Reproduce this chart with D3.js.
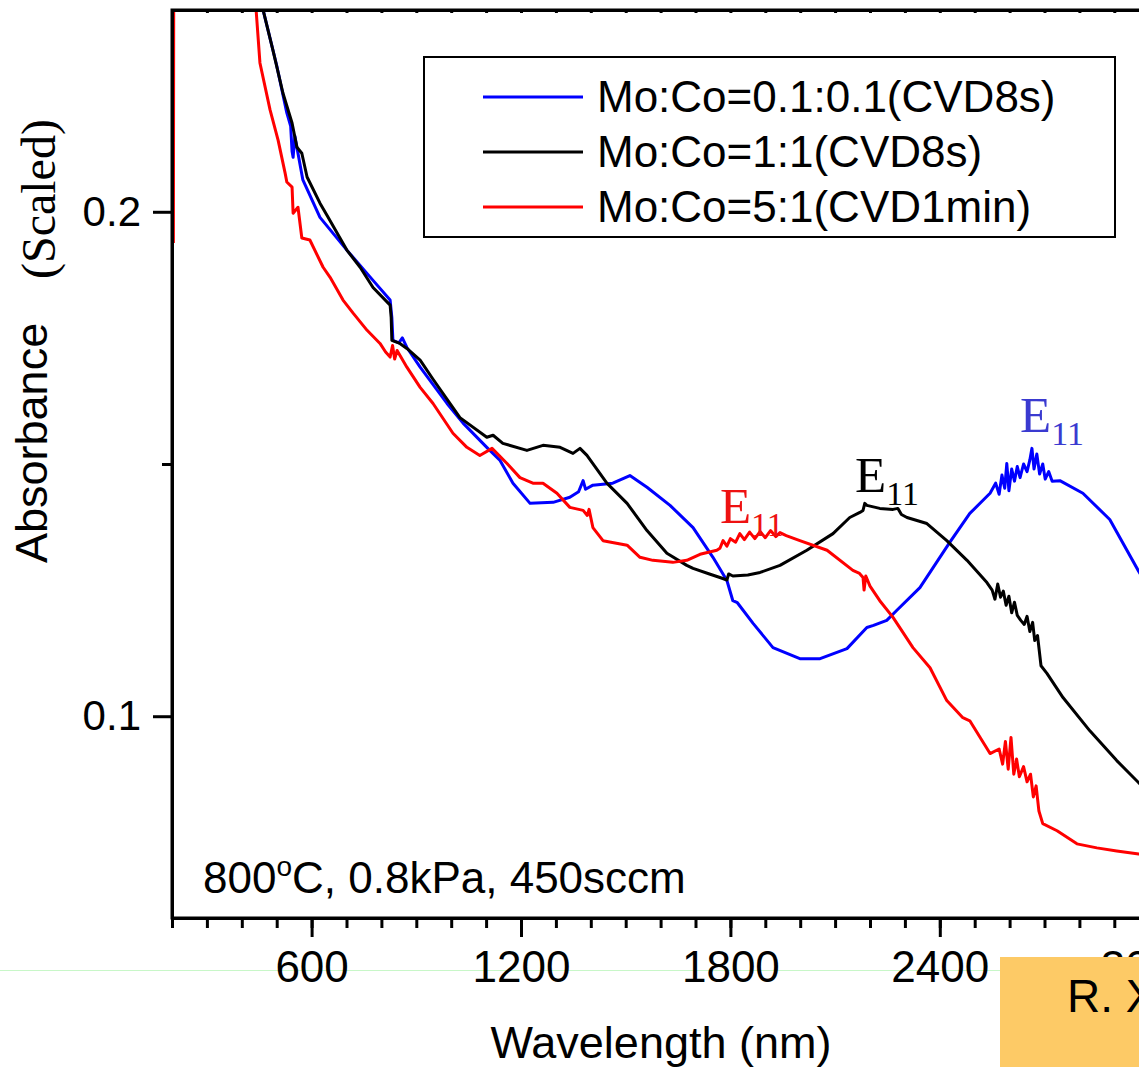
<!DOCTYPE html>
<html>
<head>
<meta charset="utf-8">
<script src="https://cdn.jsdelivr.net/npm/d3@7"></script>
<style>
  html, body { margin: 0; padding: 0; background: #fff; overflow: hidden; }
  svg { display: block; }
</style>
</head>
<body>
<svg id="chart" width="1139" height="1067"></svg>
<script>
// ---- data: wavelength (nm), scaled absorbance ----
const seriesNames = ["Mo:Co=0.1:0.1(CVD8s)", "Mo:Co=1:1(CVD8s)", "Mo:Co=5:1(CVD1min)"];

const blueSeries = [
  [461,0.240],[500,0.2290],[529,0.2196],[540,0.2170],[544,0.2120],[547,0.2108],[552,0.2150],
  [575,0.2063],[624,0.1989],[701,0.1924],[776,0.1864],[825,0.1825],[830,0.1790],[833,0.1745],
  [850,0.1740],[860,0.1750],[873,0.1731],[911,0.1692],[988,0.1620],[1034,0.1581],[1102,0.1533],
  [1140,0.1507],[1177,0.1462],[1226,0.1422],[1292,0.1424],[1340,0.1434],[1365,0.1445],
  [1378,0.1467],[1385,0.1450],[1406,0.1458],[1463,0.1462],[1512,0.1477],[1561,0.1454],
  [1627,0.1418],[1693,0.1374],[1750,0.1315],[1790,0.1269],[1807,0.1229],[1820,0.1225],
  [1865,0.1184],[1922,0.1136],[1999,0.1114],[2057,0.1114],[2134,0.1134],[2191,0.1176],
  [2210,0.1180],[2248,0.1190],[2277,0.1210],[2343,0.1255],[2429,0.1345],[2486,0.1402],
  [2544,0.1442],[2560,0.1462],[2570,0.1440],[2578,0.1478],[2586,0.1452],[2592,0.1501],
  [2598,0.1447],[2606,0.1490],[2614,0.1466],[2622,0.1495],[2630,0.1473],[2640,0.1500],
  [2650,0.1485],[2658,0.1508],[2664,0.1531],[2670,0.1490],[2678,0.1520],[2686,0.1480],
  [2695,0.1500],[2702,0.1470],[2712,0.1485],[2722,0.1466],[2744,0.1467],[2810,0.1442],
  [2887,0.1390],[2970,0.1287],[2990,0.1265]
];

const blackSeries = [
  [461,0.240],[489,0.2321],[518,0.2235],[544,0.2176],[558,0.2128],[572,0.2116],[587,0.2069],
  [624,0.2017],[644,0.1993],[701,0.1924],[739,0.1890],[776,0.1850],[825,0.1815],[828,0.1790],
  [830,0.1745],[853,0.1739],[873,0.1729],[911,0.1706],[948,0.1668],[1025,0.1592],[1102,0.1553],
  [1120,0.1557],[1148,0.1541],[1217,0.1527],[1263,0.1537],[1312,0.1533],[1349,0.1521],
  [1369,0.1531],[1389,0.1517],[1446,0.1462],[1504,0.1422],[1561,0.1368],[1618,0.1323],
  [1675,0.1299],[1693,0.1293],[1740,0.1282],[1770,0.1275],[1790,0.1270],[1795,0.1282],
  [1807,0.1278],[1850,0.1280],[1885,0.1285],[1942,0.1299],[2019,0.1329],[2094,0.1362],
  [2142,0.1394],[2171,0.1404],[2180,0.1408],[2185,0.1422],[2191,0.1418],[2228,0.1412],
  [2266,0.1410],[2280,0.1412],[2290,0.1400],[2306,0.1394],[2363,0.1382],[2420,0.1348],
  [2478,0.1309],[2535,0.1265],[2550,0.1250],[2558,0.1232],[2566,0.1262],[2574,0.1236],
  [2582,0.1248],[2590,0.1220],[2598,0.1238],[2606,0.1205],[2614,0.1226],[2622,0.1200],
  [2632,0.1190],[2642,0.1182],[2650,0.1198],[2658,0.1168],[2666,0.1186],[2672,0.1150],
  [2680,0.1160],[2690,0.1100],[2707,0.1085],[2753,0.1037],[2830,0.0971],[2907,0.0912],
  [2970,0.0868],[2990,0.0855]
];

const redSeries = [
  [204,0.1938],[206,0.300],[436,0.300],[441,0.240],[452,0.2295],[481,0.2202],[504,0.2142],
  [524,0.2077],[529,0.2059],[544,0.2049],[547,0.1997],[561,0.2009],[572,0.1948],[595,0.1944],
  [633,0.1890],[653,0.1870],[690,0.1825],[719,0.1799],[759,0.1765],[796,0.1739],[812,0.1722],
  [825,0.1712],[832,0.1735],[838,0.1708],[845,0.1725],[873,0.1692],[911,0.1652],[948,0.1620],
  [1005,0.1561],[1045,0.1533],[1082,0.1517],[1117,0.1531],[1160,0.1501],[1197,0.1473],
  [1234,0.1462],[1263,0.1462],[1303,0.1442],[1340,0.1414],[1378,0.1408],[1390,0.1398],
  [1395,0.1410],[1406,0.1374],[1435,0.1348],[1504,0.1339],[1541,0.1315],[1578,0.1309],
  [1635,0.1305],[1675,0.1309],[1713,0.1321],[1761,0.1329],[1770,0.1333],[1779,0.1348],
  [1790,0.1337],[1800,0.1352],[1815,0.1345],[1827,0.1362],[1840,0.1350],[1855,0.1365],
  [1870,0.1352],[1885,0.1366],[1900,0.1354],[1915,0.1368],[1930,0.1356],[1942,0.1364],
  [1960,0.1358],[1999,0.1348],[2077,0.1329],[2151,0.1289],[2170,0.1283],[2180,0.1275],
  [2183,0.1250],[2188,0.1278],[2200,0.1258],[2228,0.1229],[2266,0.1196],[2323,0.1136],
  [2372,0.1096],[2420,0.1031],[2466,0.0997],[2486,0.0991],[2544,0.0926],[2570,0.0935],
  [2580,0.0905],[2588,0.0950],[2596,0.0895],[2604,0.0958],[2612,0.0885],[2620,0.0915],
  [2628,0.0880],[2640,0.0900],[2650,0.0870],[2660,0.0885],[2668,0.0840],[2676,0.0862],
  [2684,0.0812],[2695,0.0787],[2736,0.0773],[2793,0.0747],[2850,0.0739],[2907,0.0733],
  [2970,0.0727],[2990,0.0726]
];

const xMajorTicks = [600, 1200, 1800, 2400, 3000];
const xMinorTicks = d3.range(200, 3201, 100);
const yMajorTicks = [0.1, 0.2];
const yMinorTicks = [0.15];

// peak annotations: [wavelength, absorbance] at the left/baseline of the "E" glyph
const peakLabels = [
  { series: 2, at: [1770, 0.1384] },
  { series: 1, at: [2157, 0.1444] },
  { series: 0, at: [2630, 0.1563] }
];

// ---- drawing ----
const W = 1139, H = 1067;
const plot = { left: 172, top: 10, right: 1219, bottom: 918 };
const colors = ["#0000ff", "#000000", "#ff0000"];
const labelColors = ["#3a3ad0", "#000000", "#ee1111"];
const sans = "'Liberation Sans', Arial, Helvetica, sans-serif";
const serif = "'Liberation Serif', 'Times New Roman', serif";

const svg = d3.select("#chart");

const x = d3.scaleLinear().domain([200, 3200]).range([plot.left, plot.right]);
const y = d3.scaleLinear().domain([0.06, 0.24]).range([plot.bottom, plot.top]);

// faint guide line that runs under the tick labels
svg.append("line")
  .attr("x1", 0).attr("x2", 1000).attr("y1", 970.5).attr("y2", 970.5)
  .attr("stroke", "#c8f7c8").attr("stroke-width", 1);

svg.append("defs").append("clipPath").attr("id", "plotClip")
  .append("rect")
  .attr("x", plot.left).attr("y", plot.top)
  .attr("width", plot.right - plot.left).attr("height", plot.bottom - plot.top);

// curves
const line = d3.line().x(d => x(d[0])).y(d => y(d[1]));
const curves = svg.append("g").attr("clip-path", "url(#plotClip)");
[blueSeries, blackSeries, redSeries].forEach((s, i) => {
  curves.append("path")
    .datum(s)
    .attr("d", line)
    .attr("fill", "none")
    .attr("stroke", colors[i])
    .attr("stroke-width", 3)
    .attr("stroke-linejoin", "round");
});

// axes
function styleAxis(g) {
  g.selectAll("path.domain").attr("stroke", "#000").attr("stroke-width", 3);
  g.selectAll(".tick line").attr("stroke", "#000").attr("stroke-width", 3);
}

const xMinor = svg.append("g").attr("transform", `translate(0,${plot.bottom})`)
  .call(d3.axisBottom(x).tickValues(xMinorTicks).tickSize(10).tickSizeOuter(0).tickFormat(""));
styleAxis(xMinor);
const xMajor = svg.append("g").attr("transform", `translate(0,${plot.bottom})`)
  .call(d3.axisBottom(x).tickValues(xMajorTicks).tickSize(19).tickSizeOuter(0).tickPadding(14)
    .tickFormat(d3.format("d")));
styleAxis(xMajor);
xMajor.selectAll(".tick text")
  .attr("font-family", sans).attr("font-size", 44).attr("fill", "#000");

// small inward ticks along the top edge
const xTop = svg.append("g").attr("transform", `translate(0,${plot.top})`)
  .call(d3.axisBottom(x).tickValues(xMinorTicks).tickSize(3).tickSizeOuter(0).tickFormat(""));
styleAxis(xTop);

const yMinor = svg.append("g").attr("transform", `translate(${plot.left},0)`)
  .call(d3.axisLeft(y).tickValues(yMinorTicks).tickSize(10).tickSizeOuter(0).tickFormat(""));
styleAxis(yMinor);
const yMajor = svg.append("g").attr("transform", `translate(${plot.left},0)`)
  .call(d3.axisLeft(y).tickValues(yMajorTicks).tickSize(19).tickSizeOuter(0).tickPadding(12)
    .tickFormat(d3.format(".1f")));
styleAxis(yMajor);
yMajor.selectAll(".tick text")
  .attr("font-family", sans).attr("font-size", 42).attr("fill", "#000");

// plot frame
svg.append("rect")
  .attr("x", plot.left).attr("y", plot.top)
  .attr("width", plot.right - plot.left).attr("height", plot.bottom - plot.top)
  .attr("fill", "none").attr("stroke", "#000").attr("stroke-width", 3);

// axis titles
svg.append("text")
  .attr("x", 661).attr("y", 1058)
  .attr("text-anchor", "middle")
  .attr("font-family", sans).attr("font-size", 45)
  .text("Wavelength (nm)");

svg.append("text")
  .attr("transform", "translate(47,563) rotate(-90)")
  .attr("font-family", sans).attr("font-size", 45)
  .text("Absorbance");
svg.append("text")
  .attr("transform", "translate(55,279) rotate(-90)")
  .attr("font-family", serif).attr("font-size", 48)
  .text("(Scaled)");

// condition note
const note = svg.append("text")
  .attr("x", 203).attr("y", 893)
  .attr("font-family", sans).attr("font-size", 44);
note.append("tspan").text("800");
note.append("tspan").attr("font-size", 28).attr("dy", -17).text("o");
note.append("tspan").attr("dy", 17).text("C, 0.8kPa, 450sccm");

// peak labels E11
peakLabels.forEach(p => {
  const t = svg.append("text")
    .attr("x", x(p.at[0])).attr("y", y(p.at[1]))
    .attr("font-family", serif).attr("font-size", 51)
    .attr("fill", labelColors[p.series]);
  t.append("tspan").text("E");
  t.append("tspan").attr("font-size", 34).attr("dy", 13).text("11");
});

// legend
const legend = svg.append("g");
legend.append("rect")
  .attr("x", 424).attr("y", 57).attr("width", 691).attr("height", 180)
  .attr("fill", "#fff").attr("stroke", "#000").attr("stroke-width", 2);
seriesNames.forEach((name, i) => {
  const cy = 97 + i * 55;
  legend.append("line")
    .attr("x1", 483).attr("x2", 583).attr("y1", cy).attr("y2", cy)
    .attr("stroke", colors[i]).attr("stroke-width", 3);
  legend.append("text")
    .attr("x", 597).attr("y", cy + 15)
    .attr("font-family", sans).attr("font-size", 44)
    .text(name);
});

// citation tag in the corner
svg.append("rect")
  .attr("x", 1000).attr("y", 957).attr("width", 160).attr("height", 120)
  .attr("fill", "#fdca66");
svg.append("text")
  .attr("x", 1067).attr("y", 1012)
  .attr("font-family", sans).attr("font-size", 46)
  .text("R. X");
</script>
</body>
</html>
